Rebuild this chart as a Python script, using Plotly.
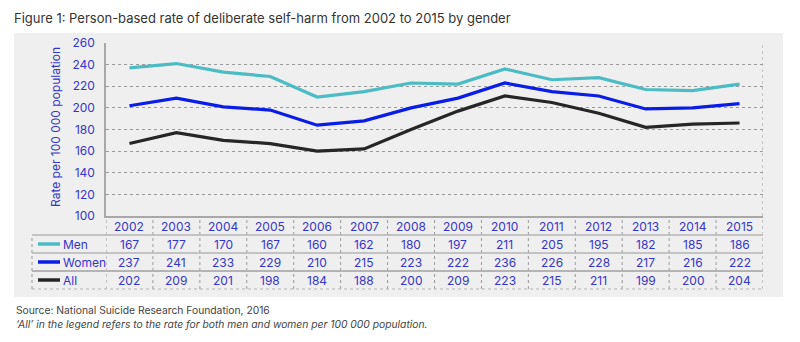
import plotly.graph_objects as go

years = ["2002", "2003", "2004", "2005", "2006", "2007", "2008", "2009",
         "2010", "2011", "2012", "2013", "2014", "2015"]
row_labels = ["Men", "Women", "All"]
men = [167, 177, 170, 167, 160, 162, 180, 197, 211, 205, 195, 182, 185, 186]
women = [237, 241, 233, 229, 210, 215, 223, 222, 236, 226, 228, 217, 216, 222]
all_ = [202, 209, 201, 198, 184, 188, 200, 209, 223, 215, 211, 199, 200, 204]
rows = [men, women, all_]
y_ticks = [100, 120, 140, 160, 180, 200, 220, 240, 260]

CYAN = "#4cbcc4"
BLUE = "#0a1de6"
BLACK = "#262626"
TXT = "#3535c8"
GRID = "#9a9a9a"
legend_colors = [CYAN, BLUE, BLACK]
# colours of the drawn lines, as in the original picture
line_series = [(women, CYAN), (all_, BLUE), (men, BLACK)]

W, H = 800, 342
L, R, T, B = 106, 763, 43, 216
pw, ph = R - L, B - T


def px(x):
    return (x - L) / pw


def py(y):
    return (B - y) / ph


xs = list(range(len(years)))
fig = go.Figure()
for vals, col in line_series:
    fig.add_trace(go.Scatter(x=xs, y=vals, mode="lines",
                             line=dict(color=col, width=3.2),
                             showlegend=False, hoverinfo="skip"))

shapes = []
# grey panel
shapes.append(dict(type="rect", xref="paper", yref="paper", layer="below",
                   x0=px(14), x1=px(783), y0=py(297), y1=py(33),
                   fillcolor="#efefef", line=dict(width=0)))
# right dotted border of plot
shapes.append(dict(type="line", xref="x", yref="paper", x0=13.5, x1=13.5,
                   y0=0, y1=1, line=dict(color=GRID, width=1, dash="dot")))
# table geometry (pixels)
header_top, r0, r1, r2, r3 = 216, 235, 253, 271, 289
centers = [(216 + 235) / 2 + 1, (235 + 253) / 2, (253 + 271) / 2, (271 + 289) / 2]
# column boundaries
for i in range(len(years) + 1):
    shapes.append(dict(type="line", xref="x", yref="paper", x0=i - 0.5, x1=i - 0.5,
                       y0=py(r3), y1=py(header_top),
                       line=dict(color=GRID, width=1, dash="dot")))
shapes.append(dict(type="line", xref="paper", yref="paper", x0=px(32), x1=px(32),
                   y0=py(r3), y1=py(r0), line=dict(color=GRID, width=1, dash="dot")))
# horizontal rules
for yy, w, d in [(r0, 1.5, "solid"), (r1, 1.5, "solid"), (r2, 2, "solid"), (r3, 1, "dot")]:
    shapes.append(dict(type="line", xref="paper", yref="paper", x0=px(32), x1=1,
                       y0=py(yy), y1=py(yy), line=dict(color="#b4b4b4", width=w, dash=d)))
# legend swatches
for k, col in enumerate(legend_colors):
    yc = centers[k + 1]
    shapes.append(dict(type="line", xref="paper", yref="paper", x0=px(38), x1=px(60),
                       y0=py(yc), y1=py(yc), line=dict(color=col, width=3.5)))

ann = []
for i, yr in enumerate(years):
    ann.append(dict(x=i, y=py(centers[0]), xref="x", yref="paper", text=yr,
                    showarrow=False, font=dict(size=12, color=TXT), yanchor="middle"))
    for k, vals in enumerate(rows):
        ann.append(dict(x=i, y=py(centers[k + 1]), xref="x", yref="paper",
                        text=str(vals[i]), showarrow=False,
                        font=dict(size=12, color=TXT), yanchor="middle"))
for k, lab in enumerate(row_labels):
    ann.append(dict(x=px(61), y=py(centers[k + 1]), xref="paper", yref="paper",
                    text=lab, showarrow=False, xanchor="left", yanchor="middle",
                    font=dict(size=12, color=TXT)))
ann.append(dict(x=px(14), y=py(310), xref="paper", yref="paper", xanchor="left",
                yanchor="middle", showarrow=False,
                text="Source: National Suicide Research Foundation, 2016",
                font=dict(size=10.3, color="#444444")))
ann.append(dict(x=px(14), y=py(324), xref="paper", yref="paper", xanchor="left",
                yanchor="middle", showarrow=False,
                text="<i>‘All’ in the legend refers to the rate for both men and women per 100 000 population.</i>",
                font=dict(size=10.3, color="#444444")))
ann.append(dict(x=px(55), y=py(127), xref="paper", yref="paper", textangle=-90,
                showarrow=False, text="Rate per 100 000 population",
                font=dict(size=12, color=TXT), xanchor="center", yanchor="middle"))

fig.update_layout(
    width=W, height=H,
    margin=dict(l=L, r=W - R, t=T, b=H - B),
    paper_bgcolor="white", plot_bgcolor="rgba(0,0,0,0)",
    font=dict(family="Inter, Lato, sans-serif"),
    title=dict(text="Figure 1: Person-based rate of deliberate self-harm from 2002 to 2015 by gender",
               x=14 / W, xanchor="left", y=1 - 18 / H, yanchor="middle",
               font=dict(size=13, color="#333333")),
    shapes=shapes, annotations=ann,
    xaxis=dict(range=[-0.5, 13.5], showticklabels=False, showgrid=False,
               zeroline=False, showline=True, linecolor="#a8a8a8", linewidth=1.5,
               fixedrange=True),
    yaxis=dict(range=[100, 260], tickvals=y_ticks, showgrid=True, gridcolor=GRID,
               griddash="dot", gridwidth=1, zeroline=False, showline=True,
               linecolor="#a8a8a8", linewidth=1.5, tickfont=dict(size=12, color=TXT),
               ticklabelstandoff=7, fixedrange=True),
)

fig.write_html("out.html")
